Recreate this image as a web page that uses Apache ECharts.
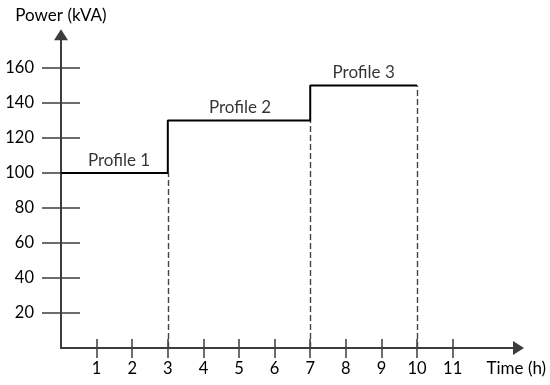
<!DOCTYPE html>
<html>
<head>
<meta charset="utf-8">
<script src="https://cdn.jsdelivr.net/npm/echarts@6/dist/echarts.min.js"></script>
<style>
  html, body { margin: 0; padding: 0; background: #fff; }
  #chart { width: 550px; height: 385px; }
</style>
</head>
<body>
<div id="chart"></div>
<script>
// step profile: power level starting at each breakpoint
const stepTimes = [0, 3, 7, 10];
const stepPower = [100, 130, 150, 150];
// dashed drop lines
const dropTimes = [3, 7, 10];
const dropPower = [100, 130, 150];
// profile labels
const profileNames = ['Profile 1', 'Profile 2', 'Profile 3'];
const profileX = [1.63, 5.03, 8.5];
const profileY = [100, 130, 150];
// tick labels
const xTicks = [1, 2, 3, 4, 5, 6, 7, 8, 9, 10, 11];
const yTicks = [20, 40, 60, 80, 100, 120, 140, 160];

const font = 'Lato, "Open Sans", sans-serif';
const axisColor = '#3c3c3c';
const textColor = '#000';

const chart = echarts.init(document.getElementById('chart'));

function xAxisBase(inside) {
  return {
    type: 'value',
    position: 'bottom',
    min: 0,
    max: 12.85,
    interval: 1,
    splitLine: { show: false },
    axisLine: inside ? { show: false } : {
      show: true,
      symbol: ['none', 'triangle'],
      symbolSize: [14, 11],
      lineStyle: { color: axisColor, width: 2 }
    },
    axisTick: {
      show: true,
      inside: inside,
      length: inside ? 9 : 10,
      customValues: xTicks,
      lineStyle: { color: axisColor, width: 1.5 }
    },
    axisLabel: inside ? { show: false } : {
      show: true,
      customValues: xTicks,
      margin: 12,
      color: textColor,
      fontSize: 16.5,
      fontFamily: font
    }
  };
}

function yAxisBase(inside) {
  return {
    type: 'value',
    position: 'left',
    min: 0,
    max: 179,
    interval: 20,
    splitLine: { show: false },
    axisLine: inside ? { show: false } : {
      show: true,
      symbol: ['none', 'triangle'],
      symbolSize: [14, 11],
      lineStyle: { color: axisColor, width: 2 }
    },
    axisTick: {
      show: true,
      inside: inside,
      length: 19,
      customValues: yTicks,
      lineStyle: { color: axisColor, width: 1.5 }
    },
    axisLabel: inside ? { show: false } : {
      show: true,
      customValues: yTicks,
      margin: 27,
      color: textColor,
      fontSize: 16.5,
      fontFamily: font
    }
  };
}

const xOuter = xAxisBase(false);
xOuter.name = 'Time (h)';
xOuter.nameLocation = 'end';
xOuter.nameGap = -32;
xOuter.nameTextStyle = {
  color: textColor, fontSize: 17, fontFamily: font,
  verticalAlign: 'top', padding: [12, 0, 0, 0]
};

const yOuter = yAxisBase(false);
yOuter.name = 'Power (kVA)';
yOuter.nameLocation = 'end';
yOuter.nameGap = 11;
yOuter.nameTextStyle = {
  color: textColor, fontSize: 17, fontFamily: font, align: 'center'
};

const stepData = stepTimes.map((t, i) => [t, stepPower[i]]);
const dropLines = dropTimes.map((t, i) => [
  { coord: [t, 0] },
  { coord: [t, dropPower[i]] }
]);
const labelData = profileX.map((x, i) => ({ value: [x, profileY[i]], name: profileNames[i] }));

chart.setOption({
  animation: false,
  backgroundColor: '#fff',
  grid: { left: 61, right: 31.5, top: 34.75, bottom: 37, containLabel: false },
  xAxis: [xOuter, xAxisBase(true)],
  yAxis: [yOuter, yAxisBase(true)],
  series: [
    {
      type: 'line',
      step: 'end',
      data: stepData,
      symbol: 'none',
      lineStyle: { color: '#000', width: 2 },
      z: 5,
      markLine: {
        silent: true,
        symbol: ['none', 'none'],
        label: { show: false },
        lineStyle: { color: '#444', width: 1.4, type: [6, 3] },
        data: dropLines
      }
    },
    {
      type: 'scatter',
      data: labelData,
      symbolSize: 0,
      label: {
        show: true,
        position: 'top',
        distance: 4,
        formatter: '{b}',
        color: textColor,
        fontSize: 17,
        fontFamily: font
      }
    }
  ]
});
</script>
</body>
</html>
